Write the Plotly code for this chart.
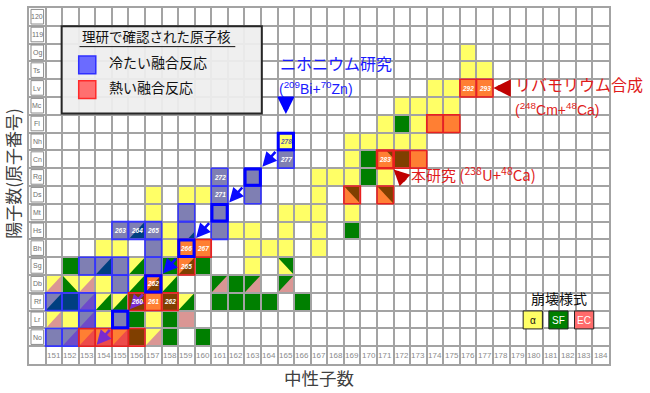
import plotly.graph_objects as go

# ---------------- data ----------------
element_symbols = ["No", "Lr", "Rf", "Db", "Sg", "Bh", "Hs", "Mt", "Ds", "Rg",
                   "Cn", "Nh", "Fl", "Mc", "Lv", "Ts", "Og", "119", "120"]
proton_numbers = list(range(102, 121))
neutron_numbers = list(range(151, 185))

# (N, Z, main decay mode, second decay mode, corner of second mode)
decay_cells = [
    (176, 118, "a", None, None),
    (176, 117, "a", None, None), (177, 117, "a", None, None),
    (174, 116, "a", None, None), (175, 116, "a", None, None),
    (176, 116, "a", None, None), (177, 116, "a", None, None),
    (172, 115, "a", None, None), (173, 115, "a", None, None),
    (174, 115, "a", None, None), (175, 115, "a", None, None),
    (171, 114, "a", None, None), (172, 114, "sf", None, None), (173, 114, "a", None, None),
    (174, 114, "a", None, None), (175, 114, "a", None, None),
    (165, 113, "a", None, None), (169, 113, "a", None, None), (170, 113, "a", None, None),
    (171, 113, "a", None, None), (172, 113, "a", None, None), (173, 113, "a", None, None),
    (165, 112, "a", None, None), (169, 112, "a", None, None), (170, 112, "sf", None, None),
    (171, 112, "a", "sf", "urs"), (172, 112, "sf", None, None), (173, 112, "a", None, None),
    (161, 111, "a", None, None), (163, 111, "a", None, None), (167, 111, "a", None, None),
    (168, 111, "a", None, None), (169, 111, "a", None, None), (170, 111, "sf", None, None),
    (171, 111, "a", None, None),
    (157, 110, "a", None, None), (159, 110, "a", None, None), (160, 110, "a", None, None),
    (161, 110, "a", None, None), (163, 110, "a", None, None), (167, 110, "a", None, None),
    (169, 110, "a", "sf", "ur"), (171, 110, "a", "sf", "ur"),
    (157, 109, "a", None, None), (159, 109, "a", None, None), (161, 109, "a", None, None),
    (165, 109, "a", None, None), (166, 109, "a", None, None), (167, 109, "a", None, None),
    (169, 109, "a", None, None),
    (155, 108, "a", None, None), (156, 108, "a", "sf", "lr"), (157, 108, "a", None, None),
    (158, 108, "a", None, None), (159, 108, "a", "sf", "lrs"), (161, 108, "a", None, None),
    (162, 108, "a", None, None), (163, 108, "a", None, None), (165, 108, "a", None, None),
    (167, 108, "a", None, None), (169, 108, "sf", None, None),
    (154, 107, "a", None, None), (155, 107, "a", None, None), (157, 107, "a", None, None),
    (158, 107, "a", None, None), (159, 107, "a", None, None), (160, 107, "a", None, None),
    (163, 107, "a", None, None), (164, 107, "a", None, None), (165, 107, "a", None, None),
    (167, 107, "a", None, None),
    (152, 106, "sf", None, None), (153, 106, "a", None, None), (154, 106, "a", "sf", "lr"),
    (155, 106, "a", None, None), (156, 106, "a", "sf", "lr"), (157, 106, "a", None, None),
    (158, 106, "sf", None, None), (159, 106, "a", "sf", "lr"), (160, 106, "sf", None, None),
    (163, 106, "a", None, None), (165, 106, "a", "sf", "ur"),
    (151, 105, "a", "ec", "lr"), (152, 105, "a", "sf", "ll"), (153, 105, "a", "ec", "lr"),
    (154, 105, "a", None, None), (155, 105, "a", None, None), (156, 105, "a", "sf", "lr"),
    (157, 105, "a", "sf", "lr"), (158, 105, "a", "sf", "lr"), (161, 105, "sf", "ec", "lr"),
    (162, 105, "sf", None, None), (163, 105, "sf", "ec", "lr"), (165, 105, "sf", "ec", "lr"),
    (151, 104, "a", "sf", "lr"), (152, 104, "sf", None, None), (153, 104, "a", "ec", "lr"),
    (154, 104, "a", "sf", "lr"), (155, 104, "a", "sf", "lr"), (156, 104, "sf", None, None),
    (157, 104, "a", None, None), (158, 104, "sf", None, None), (159, 104, "a", "sf", "lr"),
    (161, 104, "sf", None, None), (162, 104, "sf", None, None), (163, 104, "sf", None, None),
    (164, 104, "sf", None, None), (166, 104, "sf", None, None),
    (151, 103, "a", "ec", "lr"), (152, 103, "a", None, None), (153, 103, "a", "ec", "lr"),
    (154, 103, "a", None, None), (155, 103, "a", None, None), (156, 103, "sf", None, None),
    (157, 103, "a", None, None), (158, 103, "sf", None, None), (159, 103, "ec", None, None),
    (151, 102, "a", None, None), (152, 102, "a", "ec", "lr"), (153, 102, "a", "ec", "lr"),
    (154, 102, "a", "ec", "lr"), (155, 102, "a", "ec", "lr"), (156, 102, "sf", None, None),
    (157, 102, "a", "ec", "lr"), (158, 102, "sf", None, None), (160, 102, "sf", None, None),
]

cold_fusion_cells = [
    (165, 112), (161, 111), (163, 111), (161, 110), (163, 110), (159, 109), (161, 109),
    (155, 108), (156, 108), (157, 108), (159, 108), (161, 108), (157, 107),
    (153, 106), (154, 106), (155, 106), (157, 106), (155, 105),
    (151, 104), (152, 104), (153, 104), (153, 103), (155, 103), (151, 102), (152, 102),
]
hot_fusion_cells = [
    (176, 116), (177, 116), (174, 114), (175, 114), (171, 112), (172, 112), (173, 112),
    (169, 110), (171, 110), (159, 107), (160, 107), (159, 106), (157, 105),
    (156, 104), (157, 104), (158, 104), (153, 102), (154, 102), (155, 102), (156, 102),
]
nihonium_chain = [(165, 113), (163, 111), (161, 109), (159, 107), (157, 105), (155, 103)]
labelled_cells = [
    (165, 113), (165, 112), (161, 111), (161, 110), (155, 108), (156, 108), (157, 108),
    (159, 107), (160, 107), (159, 106), (157, 105), (156, 104), (157, 104), (158, 104),
    (171, 112), (176, 116), (177, 116),
]
decay_legend = [("α", "a"), ("SF", "sf"), ("EC", "ec")]

# ---------------- styles ----------------
MODE_COLORS = {"a": "#ffff66", "sf": "#007f00", "ec": "#da9694"}
LEGEND_COLORS = {"a": "#ffff66", "sf": "#007f00", "ec": "#ff6b6b"}
GRID = "#a3a3a3"
CJK = "Noto Sans CJK JP"
LAT = "Liberation Sans, Arial"
CJK_SHIFT = 3

shapes = []
annotations = []


def box(n, z):
    return n - 0.5, n + 0.5, z - 0.5, z + 0.5


def tri(n, z, corner):
    x0, x1, y0, y1 = box(n, z)
    s = 1.0
    if corner.endswith("s"):
        s = 0.45
        corner = corner[:-1]
    if corner == "lr":
        pts = [(x1 - s, y0), (x1, y0), (x1, y0 + s)]
    elif corner == "ur":
        pts = [(x1 - s, y1), (x1, y1), (x1, y1 - s)]
    else:  # ll
        pts = [(x0, y0 + s), (x0, y0), (x0 + s, y0)]
    return "M " + " L ".join(f"{a},{b}" for a, b in pts) + " Z"


# decay colouring (below grid)
for n, z, m1, m2, corner in decay_cells:
    x0, x1, y0, y1 = box(n, z)
    shapes.append(dict(type="rect", xref="x", yref="y", x0=x0, x1=x1, y0=y0, y1=y1,
                       fillcolor=MODE_COLORS[m1], line=dict(width=0), layer="below"))
    if m2:
        shapes.append(dict(type="path", xref="x", yref="y", path=tri(n, z, corner),
                           fillcolor=MODE_COLORS[m2], line=dict(width=0), layer="below"))

# label column boxes
for z in proton_numbers:
    shapes.append(dict(type="rect", xref="x", yref="y", x0=149.62, x1=150.38,
                       y0=z - 0.4, y1=z + 0.42, fillcolor="white",
                       line=dict(color="#8c8c8c", width=1), layer="above"))

# fusion overlays
for n, z in cold_fusion_cells:
    x0, x1, y0, y1 = box(n, z)
    shapes.append(dict(type="rect", xref="x", yref="y", x0=x0, x1=x1, y0=y0, y1=y1,
                       fillcolor="rgba(0,0,255,0.5)", line=dict(color="#3535ff", width=1.5)))
for n, z in hot_fusion_cells:
    x0, x1, y0, y1 = box(n, z)
    w = 2.5 if (n, z) == (171, 112) else 1.5
    shapes.append(dict(type="rect", xref="x", yref="y", x0=x0, x1=x1, y0=y0, y1=y1,
                       fillcolor="rgba(255,0,0,0.5)", line=dict(color="#e82020", width=w)))
for n, z in nihonium_chain:
    x0, x1, y0, y1 = box(n, z)
    shapes.append(dict(type="rect", xref="x", yref="y", x0=x0 + 0.04, x1=x1 - 0.04,
                       y0=y0 + 0.04, y1=y1 - 0.04, fillcolor="rgba(0,0,0,0)",
                       line=dict(color="#0000ff", width=3)))

# chain arrows
for i, (n, z) in enumerate(nihonium_chain):
    col = "#0a0aff" if i < 4 else "#7a2ad0"
    annotations.append(dict(x=n - 1.42, y=z - 1.42, ax=n - 0.55, ay=z - 0.5,
                            xref="x", yref="y", axref="x", ayref="y", text="",
                            showarrow=True, arrowhead=2, arrowsize=1.1, arrowwidth=2.6,
                            arrowcolor=col, standoff=0, startstandoff=0))

# cell mass labels
for n, z in labelled_cells:
    col = "#5a5aa8" if (n, z) == (165, 113) else "white"
    annotations.append(dict(x=n, y=z, xref="x", yref="y", text=f"<b><i>{n + z}</i></b>",
                            showarrow=False, font=dict(size=6.5, color=col, family=LAT)))

# element labels and neutron numbers
for sym, z in zip(element_symbols, proton_numbers):
    annotations.append(dict(x=150, y=z, xref="x", yref="y", text=sym, showarrow=False,
                            font=dict(size=7, color="#6e6e6e", family=LAT)))
for n in neutron_numbers:
    annotations.append(dict(x=n, y=101, xref="x", yref="y", text=str(n), showarrow=False,
                            font=dict(size=8, color="#8a8a8a", family=LAT)))

# fusion legend box
shapes.append(dict(type="rect", xref="x", yref="y", x0=151.47, x1=163.55, y0=114.57,
                   y1=119.48, fillcolor="rgba(238,238,238,0.93)",
                   line=dict(color="#262626", width=2)))
shapes.append(dict(type="line", xref="x", yref="y", x0=152.55, x1=161.95, y0=118.33,
                   y1=118.33, line=dict(color="#111111", width=1)))
annotations.append(dict(x=152.55, y=118.77, xref="x", yref="y", text="理研で確認された原子核",
                        xanchor="left", showarrow=False, yshift=CJK_SHIFT,
                        font=dict(size=13.5, color="#111111", family=CJK)))
shapes.append(dict(type="rect", xref="x", yref="y", x0=152.5, x1=153.53, y0=116.8,
                   y1=117.8, fillcolor="#6b6bff", line=dict(color="#2f2fff", width=1.5)))
shapes.append(dict(type="rect", xref="x", yref="y", x0=152.5, x1=153.53, y0=115.41,
                   y1=116.41, fillcolor="#ff7070", line=dict(color="#ff2a2a", width=1.5)))
annotations.append(dict(x=154.2, y=117.3, xref="x", yref="y", text="冷たい融合反応",
                        xanchor="left", showarrow=False, yshift=CJK_SHIFT,
                        font=dict(size=14, color="#111111", family=CJK)))
annotations.append(dict(x=154.2, y=115.91, xref="x", yref="y", text="熱い融合反応",
                        xanchor="left", showarrow=False, yshift=CJK_SHIFT,
                        font=dict(size=14, color="#111111", family=CJK)))

# decay mode legend
annotations.append(dict(x=181.5, y=104.15, xref="x", yref="y", text="崩壊様式",
                        showarrow=False, yshift=1,
                        font=dict(size=14, color="#111111", family=CJK)))
for i, (lab, mode) in enumerate(decay_legend):
    cx = 179.9 + i * 1.55
    shapes.append(dict(type="rect", xref="x", yref="y", x0=cx - 0.58, x1=cx + 0.58,
                       y0=102.47, y1=103.48, fillcolor=LEGEND_COLORS[mode],
                       line=dict(color="#222222", width=1)))
    annotations.append(dict(x=cx, y=102.97, xref="x", yref="y", text=lab, showarrow=False,
                            font=dict(size=10, color="#111111" if mode == "a" else "white",
                                      family=LAT)))

# text annotations
BLUE = "#1a1aff"
RED = "#e01b1b"
annotations += [
    dict(x=164.5, y=117.2, xref="x", yref="y", text="ニホニウム研究", xanchor="left",
         showarrow=False, yshift=CJK_SHIFT + 1, font=dict(size=16, color=BLUE, family=CJK)),
    dict(x=164.45, y=116.02, xref="x", yref="y",
         text="(<sup>209</sup>Bi+<sup>70</sup>Zn)", xanchor="left", showarrow=False,
         font=dict(size=14, color=BLUE, family=LAT)),
    dict(x=178.7, y=116.07, xref="x", yref="y", text="リバモリウム合成", xanchor="left",
         showarrow=False, yshift=CJK_SHIFT, font=dict(size=16, color=RED, family=CJK)),
    dict(x=178.7, y=114.8, xref="x", yref="y",
         text="(<sup>248</sup>Cm+<sup>48</sup>Ca)", xanchor="left", showarrow=False,
         font=dict(size=14, color=RED, family=LAT)),
    dict(x=172.45, y=111.0, xref="x", yref="y",
         text="本研究 (<sup>238</sup>U+<sup>48</sup>Ca)", xanchor="left", showarrow=False,
         yshift=CJK_SHIFT, font=dict(size=15, color=RED, family=CJK)),
    # block arrows
    dict(x=165, y=114.55, ax=165, ay=115.3, xref="x", yref="y", axref="x", ayref="y",
         text="", showarrow=True, arrowhead=2, arrowsize=0.7, arrowwidth=5,
         arrowcolor="#0000ff", standoff=0),
    dict(x=177.52, y=116.0, ax=178.4, ay=116.0, xref="x", yref="y", axref="x", ayref="y",
         text="", showarrow=True, arrowhead=2, arrowsize=0.7, arrowwidth=5,
         arrowcolor="#c00000", standoff=0),
    dict(x=171.5, y=111.42, ax=172.3, ay=110.72, xref="x", yref="y", axref="x", ayref="y",
         text="", showarrow=True, arrowhead=2, arrowsize=0.7, arrowwidth=4.5,
         arrowcolor="#c00000", standoff=0),
    # axis titles
    dict(x=0.5, y=0, xref="paper", yref="paper", text="中性子数", yanchor="top", yshift=1,
         showarrow=False, font=dict(size=17.5, color="#404040", family=CJK)),
    dict(x=-0.0285, y=0.536, xref="paper", yref="paper", text="陽子数(原子番号)", textangle=-90,
         xanchor="center", yanchor="middle", showarrow=False,
         font=dict(size=17, color="#404040", family=CJK)),
]

fig = go.Figure()
fig.add_trace(go.Scatter(x=[150], y=[101], mode="markers", marker=dict(opacity=0),
                         hoverinfo="skip", showlegend=False))
fig.update_layout(
    width=650, height=393, autosize=False,
    margin=dict(l=29, r=41, t=6, b=29, pad=0),
    paper_bgcolor="white", plot_bgcolor="white",
    showlegend=False,
    shapes=shapes, annotations=annotations,
)
axis_common = dict(showgrid=True, gridcolor=GRID, gridwidth=1.5, zeroline=False,
                   showticklabels=False, ticks="", showline=True, linecolor=GRID,
                   linewidth=2, mirror=True, fixedrange=True)
fig.update_xaxes(range=[149.5, 184.5], tickvals=[149.5 + i for i in range(36)], **axis_common)
fig.update_yaxes(range=[100.5, 120.5], tickvals=[100.5 + i for i in range(21)], **axis_common)

fig.write_html("out.html")
